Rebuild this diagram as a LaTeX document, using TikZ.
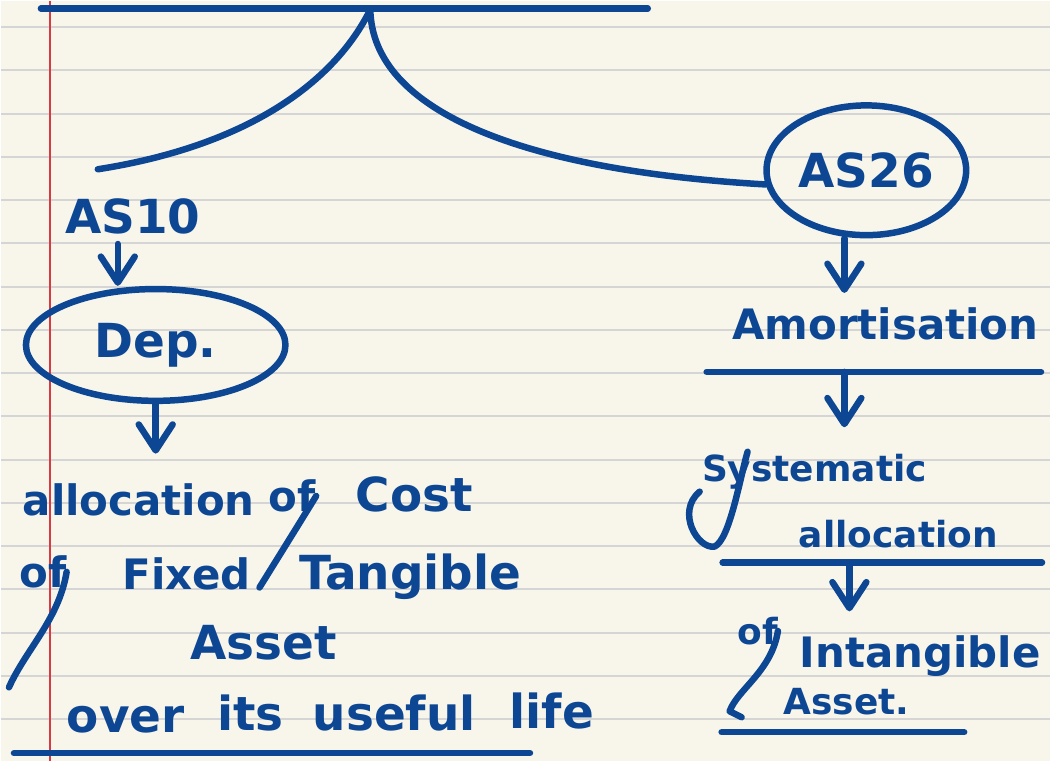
\documentclass[tikz,border=0pt]{standalone}
\usepackage{fontspec}
\setmainfont{DejaVu Sans}
\usetikzlibrary{arrows.meta,shapes.geometric,positioning}

\definecolor{ink}{HTML}{0D4793}
\definecolor{paper}{HTML}{F8F6EB}
\definecolor{ruling}{HTML}{D5D5D5}
\definecolor{margin}{HTML}{D63A42}

\tikzset{
  pen/.style={draw=ink, line width=6.5pt, line cap=round, line join=round},
  arr/.style={pen, -{Straight Barb[length=26pt,width=34pt,round]}},
  hand/.style={text=ink, font=\fontsize{42}{50}\selectfont\bfseries, inner sep=0pt},
  bighand/.style={hand, font=\fontsize{47}{56}\selectfont\bfseries},
  smallhand/.style={hand, font=\fontsize{36}{44}\selectfont\bfseries},
  ring/.style={pen, ellipse, inner sep=0pt},
}

\begin{document}
\begin{tikzpicture}[x=1pt,y=-1pt]
      % ruled paper
      \fill[paper] (0,0) rectangle (1051,762);
      \foreach \k in {0,...,16}
        \draw[ruling, line width=2pt] (0,26.5+43.33*\k) -- (1051,26.5+43.33*\k);
      \draw[margin, line width=1.2pt] (49,0) -- (49,762);
      \useasboundingbox (0,0) rectangle (1051,762);

      % top bar and the two branches
      \coordinate (barL) at (40,8);
      \coordinate (barR) at (648,8);
      \coordinate (root) at (370,9);
      \coordinate (leftend) at (97,169);
      \draw[pen] (barL) -- (barR);

      % left branch: AS10
      \node[bighand, anchor=base] (as10) at (132,233) {AS10};
      \node[ring, bighand, minimum width=260pt, minimum height=112pt] (dep) at (155,345) {Dep.};
      \node[hand, anchor=base] (alloc) at (138,516) {allocation};
      \node[hand, anchor=base] (of1) at (292,512) {of};
      \node[bighand, anchor=base] (cost) at (414,512) {Cost};
      \node[hand, anchor=base] (of2) at (42,588) {of};
      \node[hand, anchor=base] (fixed) at (186,590) {Fixed};
      \node[bighand, anchor=base] (tangible) at (410,590) {Tangible};
      \node[bighand, anchor=base] (asset) at (263,660) {Asset};
      \node[bighand, anchor=base] (over) at (125,733) {over};
      \node[bighand, anchor=base] (its) at (250,731) {its};
      \node[bighand, anchor=base] (useful) at (394,731) {useful};
      \node[bighand, anchor=base] (life) at (552,729) {life};
      \coordinate (baseL) at (13,754);
      \coordinate (baseR) at (530,754);

      \draw[pen] (root) .. controls (335,80) and (250,145) .. (leftend);
      \draw[arr, shorten <=10pt] ([xshift=-15pt]as10.south) -- ([xshift=-15pt]as10.south |- dep.north);
      \draw[arr, shorten >=30pt] (dep.south) -- (dep.south |- alloc.north);
      \draw[pen] (of1.east) .. controls (295,530) .. (259,588);
      \draw[pen] (of2.east) .. controls (58,620) and (25,650) .. (8,688);
      \draw[pen] (baseL) -- (baseR);

      % right branch: AS26
      \node[ring, bighand, minimum width=200pt, minimum height=130pt] (as26) at (867,170) {AS26};
      \node[hand, anchor=base] (amort) at (886,340) {Amortisation};
      \node[smallhand, anchor=base] (syst) at (815,482) {Systematic};
      \node[smallhand, anchor=base] (alloc2) at (899,548) {allocation};
      \node[smallhand, anchor=base] (of3) at (758,645) {of};
      \node[hand, anchor=base] (intang) at (921,668) {Intangible};
      \node[smallhand, anchor=base] (asst) at (847,715) {Asset.};
      \coordinate (ruleA) at (707,372);
      \coordinate (ruleB) at (1042,372);
      \coordinate (ruleAmid) at (845,372);
      \coordinate (ruleC) at (723,563);
      \coordinate (ruleD) at (1043,563);
      \coordinate (ruleCmid) at (850,563);
      \coordinate (ruleE) at (722,733);
      \coordinate (ruleF) at (965,733);

      \draw[pen] (root) .. controls (372,110) and (520,170) .. (as26.188);
      \draw[arr, shorten >=15pt] ([xshift=-22pt]as26.south) -- ([xshift=-22pt]as26.south |- amort.north);
      \draw[pen] (ruleA) -- (ruleB);
      \draw[arr, shorten >=27pt] (ruleAmid) -- (ruleAmid |- syst.north);
      \draw[pen] (700,492) .. controls (676,512) and (698,550) .. (715,547) .. controls (730,540) and (740,480) .. (748,452);
      \draw[pen] (ruleC) -- (ruleD);
      \draw[arr, shorten >=24pt] (ruleCmid) -- (ruleCmid |- intang.north);
      \draw[pen] (of3.east) .. controls (772,672) and (738,690) .. (730,712) -- (742,718);
      \draw[pen] (ruleE) -- (ruleF);
    \end{tikzpicture}
\end{document}
